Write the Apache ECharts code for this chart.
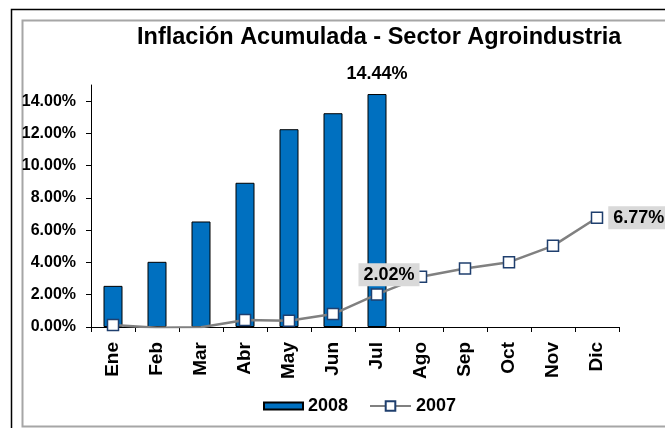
<!DOCTYPE html>
<html>
<head>
<meta charset="utf-8">
<script src="https://cdn.jsdelivr.net/npm/echarts@6/dist/echarts.min.js"></script>
<style>
  html, body { margin: 0; padding: 0; background: #fff; }
  #chart { width: 665px; height: 428px; }
</style>
</head>
<body>
<div id="chart"></div>
<script>
const months = ["Ene", "Feb", "Mar", "Abr", "May", "Jun", "Jul", "Ago", "Sep", "Oct", "Nov", "Dic"];
const inflation2008 = [2.55, 4.04, 6.54, 8.94, 12.26, 13.25, 14.44, null, null, null, null, null];
const inflation2007 = [0.12, -0.05, -0.02, 0.43, 0.39, 0.8, 2.02, 3.11, 3.63, 4.02, 5.03, 6.77];
const yTicks = [0, 2, 4, 6, 8, 10, 12, 14];

const fontFamily = "Arial, 'Liberation Sans', sans-serif";
const pct = (v) => v.toFixed(2) + "%";

const chart = echarts.init(document.getElementById("chart"));

// only the last 2008 bar carries a label
const barData = inflation2008.map((v, i) =>
  i === 6 ? { value: v, label: { show: true } } : v
);

// labelled points of 2007 (Jul above, Dic to the right)
const lineLabels = {
  6: { position: "top", distance: 2, offset: [12, 0] },
  11: { position: "right", distance: 5 },
};
const lineData = inflation2007.map((v, i) =>
  lineLabels[i] ? { value: v, label: Object.assign({ show: true }, lineLabels[i]) } : v
);

const option = {
  animation: false,
  backgroundColor: "#fff",
  textStyle: { fontFamily: fontFamily },
  title: {
    text: "Inflación Acumulada - Sector Agroindustria",
    left: 132,
    top: 21,
    textStyle: { fontSize: 23.5, fontWeight: "bold", color: "#000", fontFamily: fontFamily },
  },
  grid: { left: 91, right: 46, top: 85, bottom: 101, containLabel: false },
  legend: [
    {
      data: [{ name: "2008", icon: "rect" }],
      left: 258,
      top: 392,
      itemWidth: 39,
      itemHeight: 7,
      itemGap: 4,
      textStyle: { fontSize: 18, fontWeight: "bold", color: "#000" },
    },
    {
      data: ["2007"],
      left: 364,
      top: 392,
      itemWidth: 41,
      itemHeight: 12,
      textStyle: { fontSize: 18, fontWeight: "bold", color: "#000" },
    },
  ],
  xAxis: {
    type: "category",
    data: months,
    boundaryGap: true,
    axisLine: { lineStyle: { color: "#000", width: 1 } },
    axisTick: { show: true, length: 5, lineStyle: { color: "#000" } },
    axisLabel: {
      interval: 0,
      rotate: 90,
      margin: 15,
      fontSize: 19,
      fontWeight: "bold",
      color: "#000",
    },
    splitLine: { show: false },
  },
  yAxis: {
    type: "value",
    min: 0,
    max: 15,
    interval: 1,
    axisLine: { show: true, lineStyle: { color: "#000", width: 1 } },
    axisTick: { show: true, length: 5, customValues: yTicks, lineStyle: { color: "#000" } },
    axisLabel: {
      customValues: yTicks,
      formatter: (v) => pct(v),
      margin: 15,
      fontSize: 16,
      fontWeight: "bold",
      color: "#000",
    },
    splitLine: { show: false },
  },
  series: [
    {
      name: "2008",
      type: "bar",
      data: barData,
      barWidth: 19,
      itemStyle: { color: "#0070C0", borderColor: "#000", borderWidth: 1 },
      label: {
        show: false,
        position: "top",
        distance: 11,
        formatter: (p) => pct(p.value),
        fontSize: 18,
        fontWeight: "bold",
        color: "#000",
      },
      z: 2,
    },
    {
      name: "2007",
      type: "line",
      data: lineData,
      clip: true,
      symbol: "rect",
      symbolSize: 11,
      showAllSymbol: true,
      lineStyle: { color: "#808080", width: 2.5 },
      itemStyle: { color: "#fff", borderColor: "#1F3F6E", borderWidth: 1.5 },
      label: {
        show: false,
        formatter: (p) => pct(p.value),
        fontSize: 18,
        fontWeight: "bold",
        color: "#000",
        backgroundColor: "#D9D9D9",
        padding: [3, 5, 2, 5],
      },
      z: 3,
    },
  ],
  graphic: [
    {
      type: "rect",
      silent: true,
      shape: { x: 11.5, y: 9.5, width: 700, height: 700 },
      style: { fill: null, stroke: "#000", lineWidth: 1.5 },
    },
    {
      type: "rect",
      silent: true,
      shape: { x: 22.5, y: 20.5, width: 700, height: 406 },
      style: { fill: null, stroke: "#A6A6A6", lineWidth: 2 },
    },
  ],
};

chart.setOption(option);
</script>
</body>
</html>
